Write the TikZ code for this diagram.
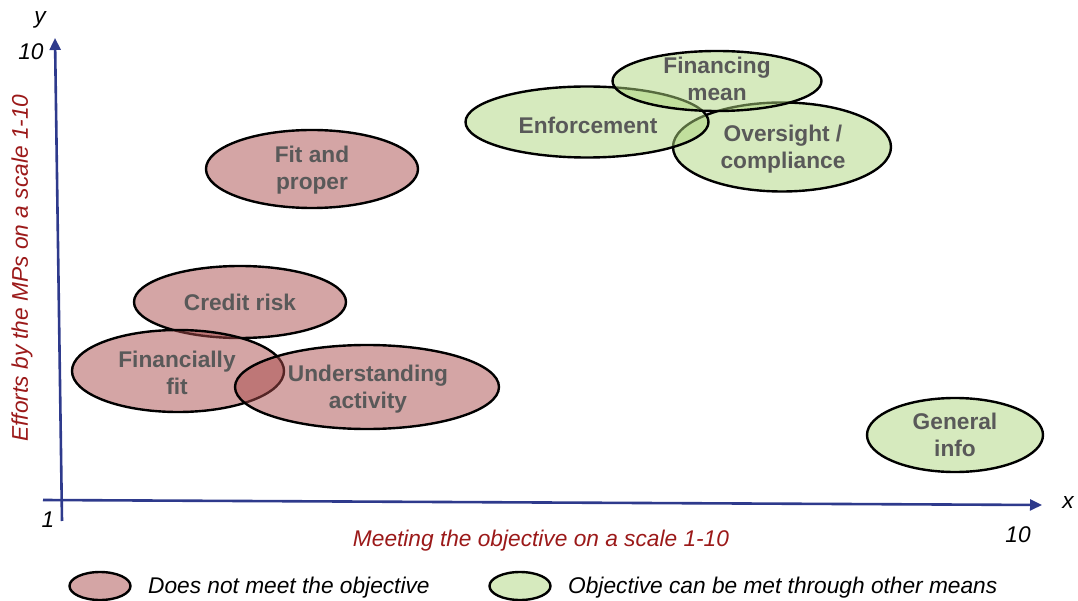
\documentclass[tikz,border=0pt]{standalone}
\usepackage{fontspec}
\setmainfont{Liberation Sans}
\usetikzlibrary{shapes.geometric,arrows.meta}
\definecolor{pinkc}{RGB}{169,75,75}
\definecolor{greenc}{RGB}{173,213,125}
\definecolor{axisblue}{RGB}{46,58,140}
\definecolor{labred}{RGB}{155,25,25}
\definecolor{txtgray}{RGB}{89,89,89}
\tikzset{
  bubble/.style={ellipse, draw=black, line width=2.4pt, fill opacity=0.5, inner sep=0pt},
  redbub/.style={bubble, fill=pinkc},
  greenbub/.style={bubble, fill=greenc},
  btext/.style={font=\fontsize{22.7}{27}\selectfont\bfseries, text=txtgray, align=center, inner sep=0pt},
  itext/.style={font=\fontsize{22.7}{27}\selectfont\itshape, inner sep=0pt},
  axis/.style={draw=axisblue, line width=2.6pt},
}
\begin{document}
\begin{tikzpicture}[x=1pt,y=-1pt]
\useasboundingbox (0,0) rectangle (1078,601);
% axes
\coordinate (ybot) at (62,521);
\coordinate (ytop) at (55,38);
\coordinate (xl) at (43,500);
\coordinate (xr) at (1042,505);
\draw[axis, -{Triangle[length=12pt,width=11pt]}] (ybot) -- (ytop);
\draw[axis, -{Triangle[length=12pt,width=11pt]}] (xl) -- (xr);
\node[itext] (ylab) at (40,20) {y};
\node[itext] (y10) at (31,52) {10};
\node[itext] (one) at (48,520) {1};
\node[itext] (xlab) at (1068,503) {x};
\node[itext] (x10) at (1018,535) {10};
\node[itext, text=labred] (xtitle) at (541,541) {Meeting the objective on a scale 1-10};
\node[itext, text=labred, rotate=90] (ytitle) at (22,268) {Efforts by the MPs on a scale 1-10};
% red bubbles
\node[redbub, minimum width=212pt, minimum height=78pt] (fp) at (312,169) {};
\node[redbub, minimum width=212pt, minimum height=72pt] (cr) at (240,302) {};
\node[redbub, minimum width=212pt, minimum height=82pt] (ff) at (178,371) {};
\node[redbub, minimum width=264pt, minimum height=84pt] (ua) at (367,387) {};
% green bubbles
\node[greenbub, minimum width=218pt, minimum height=89pt] (oc) at (782,147) {};
\node[greenbub, minimum width=243pt, minimum height=71pt] (en) at (587,122) {};
\node[greenbub, minimum width=209pt, minimum height=60pt] (fm) at (717,81) {};
\node[greenbub, minimum width=176pt, minimum height=74pt] (gi) at (955,435) {};
% texts
\node[btext] (fpt) at (312,170) {Fit and\\proper};
\node[btext] (crt) at (240,302) {Credit risk};
\node[btext] (fft) at (177,373) {Financially\\fit};
\node[btext] (uat) at (368,389) {Understanding\\activity};
\node[btext] (oct) at (783,149) {Oversight /\\compliance};
\node[btext] (ent) at (588,125) {Enforcement};
\node[btext] (fmt) at (717,79) {Financing\\mean};
\node[btext] (git) at (955,435) {General\\info};
% legend
\node[redbub, minimum width=61pt, minimum height=28pt] (lr) at (100,586) {};
\node[itext, anchor=west] (lrt) at (148,588) {Does not meet the objective};
\node[greenbub, minimum width=61pt, minimum height=28pt] (lg) at (520,586) {};
\node[itext, anchor=west] (lgt) at (568,588) {Objective can be met through other means};
\end{tikzpicture}
\end{document}
